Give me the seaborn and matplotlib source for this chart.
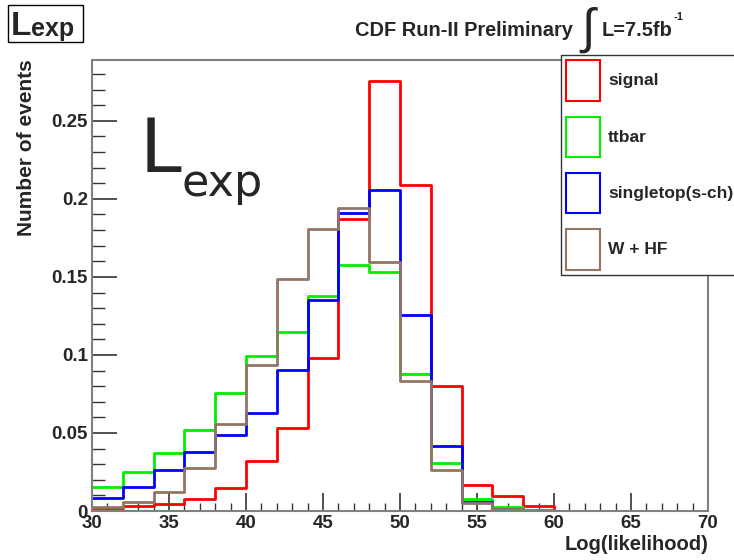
import numpy as np
import pandas as pd
import matplotlib
matplotlib.use("Agg")
import matplotlib.pyplot as plt
from matplotlib.patches import Patch, Rectangle
from matplotlib.ticker import MultipleLocator
import seaborn as sns

# binning of Log(likelihood): 20 bins of width 2 between 30 and 70
bin_edges = np.arange(30, 72, 2)
bin_centers = bin_edges[:-1] + 1

signal = [0.002, 0.003, 0.0045, 0.008, 0.015, 0.032, 0.053, 0.098, 0.187, 0.2755,
          0.209, 0.080, 0.0167, 0.0096, 0.0032, 0.0, 0.0, 0.0, 0.0, 0.0]
ttbar = [0.0152, 0.0248, 0.037, 0.052, 0.0756, 0.0996, 0.115, 0.1378, 0.1575, 0.153,
         0.0878, 0.0306, 0.0075, 0.0024, 0.0005, 0.0, 0.0003, 0.0, 0.0, 0.0]
singletop = [0.0083, 0.0156, 0.026, 0.038, 0.0487, 0.0626, 0.0904, 0.1353, 0.191, 0.206,
             0.1256, 0.0419, 0.0058, 0.001, 0.0, 0.0, 0.0, 0.0, 0.0, 0.0]
w_hf = [0.0028, 0.0058, 0.0124, 0.0274, 0.056, 0.0937, 0.1487, 0.1806, 0.194, 0.1596,
        0.0833, 0.0263, 0.0049, 0.001, 0.0005, 0.0, 0.0, 0.0, 0.0, 0.0]

labels = ['signal', 'ttbar', 'singletop(s-ch)', 'W + HF']
colors = ['#ff0000', '#00ee00', '#0000ff', '#927565']
series = [signal, ttbar, singletop, w_hf]

sns.set_style('ticks')
plt.rcParams['font.family'] = ['Liberation Sans', 'DejaVu Sans']
plt.rcParams['font.weight'] = 'bold'

W, H = 734, 560
fig = plt.figure(figsize=(W / 100, H / 100), dpi=100)
ax = fig.add_axes([92 / W, 1 - 511 / H, (708 - 92) / W, (511 - 60) / H])


def px(x, y):
    # pixel position (from top-left) -> figure fraction
    return x / W, 1 - y / H


for vals, col in zip(series, colors):
    df = pd.DataFrame({'x': bin_centers, 'w': vals})
    sns.histplot(data=df, x='x', weights='w', bins=list(bin_edges), element='step',
                 fill=False, color=col, linewidth=2, ax=ax)

ax.set_xlim(30, 70)
ax.set_ylim(0, 0.289)
ax.xaxis.set_major_locator(MultipleLocator(5))
ax.xaxis.set_minor_locator(MultipleLocator(1))
ax.yaxis.set_minor_locator(MultipleLocator(0.01))
ax.set_yticks([0, 0.05, 0.1, 0.15, 0.2, 0.25])
ax.set_yticklabels(['0', '0.05', '0.1', '0.15', '0.2', '0.25'])
ax.tick_params(axis='both', which='major', direction='in', length=13, width=1.2,
               labelsize=13.5, color='#333333', pad=3)
ax.tick_params(axis='both', which='minor', direction='in', length=6, width=1.0,
               color='#333333')
ax.tick_params(axis='y', which='major', length=18)
ax.tick_params(axis='y', which='minor', length=9)
for lab in ax.get_xticklabels() + ax.get_yticklabels():
    lab.set_fontweight('bold')
for sp in ax.spines.values():
    sp.set_color('#808080')
    sp.set_linewidth(1.5)

ax.set_xlabel('')
ax.set_ylabel('')
fig.text(*px(709, 545), 'Log(likelihood)', ha='right', va='center',
         fontsize=14.5, fontweight='bold')
fig.text(*px(26, 59), 'Number of events', ha='center', va='top',
         rotation=90, fontsize=15, fontweight='bold')

# big label inside the plot
fig.text(*px(140, 172), 'L', fontsize=54, fontweight='normal',
         family='DejaVu Sans', va='baseline')
fig.text(*px(181, 196), 'exp', fontsize=32, fontweight='normal',
         family='DejaVu Sans', va='baseline')

# header: boxed label at top-left
fig.patches.append(Rectangle(px(8, 42), 75 / W, 37 / H, transform=fig.transFigure,
                             fc='white', ec='black', lw=1))
fig.text(*px(11, 35), 'L', fontsize=24, fontweight='bold', va='baseline')
fig.text(*px(31, 36), 'exp', fontsize=18, fontweight='bold', va='baseline')

fig.text(*px(573, 31), 'CDF Run-II Preliminary', ha='right',
         va='center', fontsize=14.4, fontweight='bold')
fig.text(*px(595, 30), '\u222b', ha='right', va='center', fontsize=35,
         fontweight='normal', family='Liberation Sans')
fig.text(*px(602, 31), 'L=7.5fb', ha='left', va='center', fontsize=14.4,
         fontweight='bold')
fig.text(*px(674, 17), '-1', ha='left', va='center', fontsize=8,
         fontweight='bold')

handles = [Patch(facecolor='white', edgecolor=c, linewidth=1.5) for c in colors]
leg = fig.legend(handles, labels, loc='upper left',
                 bbox_to_anchor=px(561, 55), frameon=True,
                 fancybox=False, edgecolor='#333333', framealpha=1,
                 prop=dict(weight='bold', size=12.5), handlelength=1.95,
                 handleheight=3.2, labelspacing=0.92, borderpad=0.3,
                 handletextpad=0.45, borderaxespad=0)
leg.get_frame().set_linewidth(1.0)

fig.savefig('out.png', dpi=100)
